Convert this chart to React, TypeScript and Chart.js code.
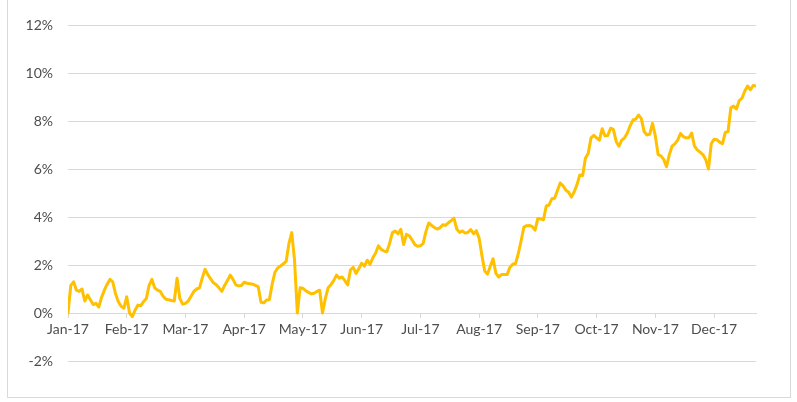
import { useEffect, useRef } from "react";
import { Chart, registerables } from "chart.js";

Chart.register(...registerables);

// Month tick labels, one every 21 trading days
const monthLabels = [
  "Jan-17", "Feb-17", "Mar-17", "Apr-17", "May-17", "Jun-17",
  "Jul-17", "Aug-17", "Sep-17", "Oct-17", "Nov-17", "Dec-17",
];
const daysPerLabel = 21;

// Cumulative return (%) per trading day, 2017
const returns = [
  0.0, 1.15, 1.3, 0.95, 0.9, 1.0, 0.5, 0.75, 0.55, 0.35,
  0.4, 0.25, 0.65, 0.95, 1.2, 1.4, 1.3, 0.8, 0.47, 0.28,
  0.2, 0.68, 0.0, -0.15, 0.12, 0.33, 0.3, 0.47, 0.6, 1.15,
  1.4, 1.05, 0.95, 0.9, 0.7, 0.57, 0.55, 0.52, 0.5, 1.45,
  0.6, 0.37, 0.4, 0.5, 0.7, 0.9, 1.0, 1.05, 1.45, 1.82,
  1.6, 1.42, 1.26, 1.18, 1.05, 0.9, 1.15, 1.35, 1.58, 1.4,
  1.17, 1.13, 1.15, 1.28, 1.24, 1.22, 1.2, 1.15, 1.1, 0.45,
  0.42, 0.54, 0.55, 1.2, 1.7, 1.88, 1.96, 2.05, 2.15, 2.9,
  3.35, 2.2, 0.0, 1.05, 1.03, 0.93, 0.86, 0.8, 0.82, 0.9,
  0.95, 0.0, 0.6, 1.05, 1.18, 1.35, 1.58, 1.45, 1.5, 1.35,
  1.17, 1.8, 1.9, 1.65, 1.85, 2.07, 1.95, 2.2, 2.03, 2.3,
  2.5, 2.8, 2.65, 2.58, 2.55, 2.9, 3.35, 3.42, 3.3, 3.49,
  2.85, 3.28, 3.22, 3.05, 2.85, 2.78, 2.8, 2.9, 3.4, 3.75,
  3.65, 3.56, 3.5, 3.55, 3.68, 3.65, 3.76, 3.85, 3.95, 3.5,
  3.36, 3.42, 3.33, 3.36, 3.48, 3.3, 3.43, 3.12, 2.4, 1.75,
  1.62, 1.95, 2.26, 1.65, 1.5, 1.6, 1.6, 1.6, 1.9, 2.03,
  2.06, 2.47, 3.0, 3.58, 3.64, 3.65, 3.6, 3.45, 3.94, 3.92,
  3.88, 4.46, 4.5, 4.76, 4.78, 5.1, 5.42, 5.3, 5.12, 5.03,
  4.83, 5.05, 5.35, 5.75, 5.72, 6.45, 6.65, 7.3, 7.4, 7.3,
  7.2, 7.68, 7.38, 7.4, 7.7, 7.65, 7.15, 6.95, 7.2, 7.3,
  7.5, 7.8, 8.04, 8.08, 8.25, 8.1, 7.56, 7.42, 7.45, 7.9,
  7.38, 6.6, 6.55, 6.4, 6.1, 6.6, 6.95, 7.05, 7.2, 7.48,
  7.35, 7.3, 7.3, 7.5, 6.95, 6.8, 6.7, 6.6, 6.4, 6.0,
  7.05, 7.24, 7.22, 7.12, 7.05, 7.52, 7.56, 8.55, 8.62, 8.5,
  8.85, 8.95, 9.25, 9.46, 9.3, 9.48, 9.46,
];

const yMin = -2;
const yMax = 12;
const yStep = 2;

export default function App() {
  const ref = useRef<HTMLCanvasElement>(null);

  useEffect(() => {
    const font = { family: "Lato, 'Open Sans', sans-serif", size: 14 };
    const chart = new Chart(ref.current!, {
      type: "line",
      data: {
        labels: returns.map((_, i) => i),
        datasets: [
          {
            data: returns,
            borderColor: "#FFC000",
            borderWidth: 3,
            borderJoinStyle: "round",
            borderCapStyle: "round",
            pointRadius: 0,
            tension: 0,
            fill: false,
          },
        ],
      },
      options: {
        responsive: false,
        animation: false,
        layout: { padding: { left: 0, top: 25, right: 41, bottom: 41 } },
        plugins: { legend: { display: false }, tooltip: { enabled: false } },
        scales: {
          x: {
            type: "linear",
            position: { y: 0 },
            min: 0,
            max: returns.length - 1,
            grid: {
              drawOnChartArea: false,
              drawTicks: true,
              tickLength: 4,
              color: "#d9d9d9",
            },
            border: { display: true, color: "#d9d9d9", width: 1 },
            ticks: {
              stepSize: daysPerLabel,
              includeBounds: false,
              autoSkip: false,
              maxRotation: 0,
              padding: 4,
              color: "#4d4d4d",
              font,
              callback: (v: any) => monthLabels[Math.round(Number(v) / daysPerLabel)] ?? "",
            },
          },
          y: {
            min: yMin,
            max: yMax,
            afterFit: (s: any) => {
              s.width = 68;
            },
            grid: { color: "#d9d9d9", drawTicks: false },
            border: { display: false },
            ticks: {
              stepSize: yStep,
              padding: 15,
              color: "#4d4d4d",
              font,
              callback: (v: any) => `${v}%`,
            },
          },
        },
      },
    });
    return () => chart.destroy();
  }, []);

  return (
    <div style={{ position: "absolute", left: 0, top: 0, width: 797, height: 402, background: "#fff" }}>
      <div
        style={{
          position: "absolute",
          left: 7,
          top: -2,
          width: 784,
          height: 400,
          border: "1px solid #d9d9d9",
          boxSizing: "border-box",
        }}
      />
      <canvas ref={ref} width={797} height={402} style={{ position: "absolute", left: 0, top: 0 }} />
    </div>
  );
}
